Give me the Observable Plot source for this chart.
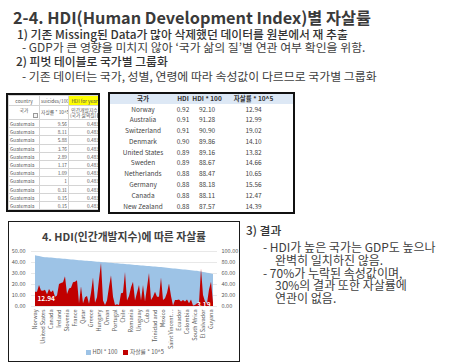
<!DOCTYPE html>
<html><head><meta charset="utf-8">
<script src="https://cdn.jsdelivr.net/npm/d3@7"></script>
<script src="https://cdn.jsdelivr.net/npm/@observablehq/plot@0.6"></script>
<style>
html,body{margin:0;padding:0;background:#fff;}
body{width:461px;height:364px;position:relative;overflow:hidden;font-family:"Noto Sans CJK KR","Noto Sans",sans-serif;color:#404040;}
.t{position:absolute;white-space:nowrap;}
.h1{font-size:16.3px;font-weight:700;color:#3a3a3a;line-height:16px;}
.h2{font-size:11.8px;font-weight:500;color:#333;line-height:13px;}
.b{font-size:11.9px;font-weight:400;color:#404040;line-height:13px;}
.b2{font-size:12px;font-weight:400;color:#404040;line-height:12.6px;}
#lt{position:absolute;left:6px;top:93px;width:94px;height:119px;border:2px solid #111;box-sizing:border-box;overflow:hidden;background:#fff;}
#lt table{border-collapse:collapse;table-layout:fixed;width:92px;font-size:4.8px;color:#555;}
#lt td{border:0.5px solid #d4d4d4;padding:0 1px;overflow:hidden;white-space:nowrap;height:7.2px;line-height:7px;}
#lt td.n{text-align:right;}
#lt tr.h td{text-align:center;}
#lt .yl{background:#ffff00;}
.fb{display:inline-block;width:3px;height:3px;border:0.5px solid #999;margin-left:1px;vertical-align:middle;background:#f4f4f4;}
#rt{position:absolute;left:108px;top:92px;width:187px;height:122px;border:2px solid #111;box-sizing:border-box;overflow:hidden;background:#fff;}
#rt table{border-collapse:collapse;table-layout:fixed;width:183px;font-size:6.5px;color:#444;}
#rt td{height:10.8px;line-height:10.8px;padding:0;text-align:center;border:none;white-space:nowrap;overflow:hidden;}
#rt tr.h td{background:#dde8f5;font-weight:700;color:#333;height:9.5px;line-height:9.5px;}
#box{position:absolute;left:8px;top:221px;width:232px;height:141px;border:1.5px solid #1a1a1a;box-sizing:border-box;}
#ctitle{position:absolute;left:8px;width:232px;top:229px;text-align:center;font-size:10.8px;font-weight:700;color:#404040;line-height:14px;}
#chart{position:absolute;left:8px;top:244px;}
#legend{position:absolute;left:86px;top:348px;font-size:5.8px;color:#595959;line-height:8px;white-space:nowrap;}
#legend span.sw{display:inline-block;width:4.5px;height:4.5px;margin-right:2px;vertical-align:-0.5px;}
#legend span.it{margin-right:6px;}
</style></head><body>
<div class="t h1" style="left:13px;top:9px;">2-4. HDI(Human Development Index)별 자살률</div>
<div class="t h2" style="left:17px;top:26.5px;">1) 기존 Missing된 Data가 많아 삭제했던 데이터를 원본에서 재 추출</div>
<div class="t b" style="left:22px;top:39.5px;">- GDP가 큰 영향을 미치지 않아 ‘국가 삶의 질’별 연관 여부 확인을 위함.</div>
<div class="t h2" style="left:16px;top:53.5px;">2) 피벗 테이블로 국가별 그룹화</div>
<div class="t b" style="left:22px;top:68.5px;">- 기존 데이터는 국가, 성별, 연령에 따라 속성값이 다르므로 국가별 그룹화</div>

<div id="lt"></div>
<div id="rt"></div>

<div id="box"></div>
<div id="ctitle">4. HDI(인간개발지수)에 따른 자살률</div>
<div id="chart"></div>
<div id="legend"></div>

<div class="t h2" style="left:246px;top:222.5px;">3) 결과</div>
<div class="t b2" style="left:263px;top:240.5px;">- HDI가 높은 국가는 GDP도 높으나</div>
<div class="t b2" style="left:275px;top:253.5px;">완벽히 일치하진 않음.</div>
<div class="t b2" style="left:263px;top:266.5px;">- 70%가 누락된 속성값이며,</div>
<div class="t b2" style="left:275px;top:279.3px;">30%의 결과 또한 자살률에</div>
<div class="t b2" style="left:275px;top:292px;">연관이 없음.</div>

<script>
// ---- chart data (sorted by HDI, descending) ----
const countries = ["Norway","Australia","Switzerland","Denmark","United States","Sweden","Netherlands","Germany","Canada","New Zealand",
"Singapore","Iceland","Ireland","Japan","Republic of Korea","United Kingdom","Slovenia","Israel","Luxembourg","Finland",
"France","Belgium","Austria","Spain","Qatar","Italy","Czech Republic","Estonia","Greece","Cyprus",
"Malta","Poland","Hungary","Lithuania","Slovakia","United Arab Emirates","Oman","Croatia","Latvia","Argentina",
"Portugal","Bahrain","Kuwait","Seychelles","Chile","Montenegro","Bulgaria","Belarus","Romania","Russian Federation",
"Barbados","Antigua and Barbuda","Uruguay","Kazakhstan","Panama","Malaysia","Cuba","Serbia","Mauritius","Costa Rica",
"Trinidad and Tobago","Grenada","Albania","Turkey","Mexico","Georgia","Azerbaijan","Brazil","Saint Vincent and Grenadines","Sri Lanka",
"Ukraine","Thailand","Ecuador","Armenia","Saint Lucia","Jamaica","Colombia","Belize","Suriname","Paraguay",
"South Africa","Philippines","Turkmenistan","Uzbekistan","El Salvador","Mongolia","Kyrgyzstan","Kiribati","Guyana","Guatemala"];

const hdi100 = [92.10,91.28,90.90,89.86,89.16,88.67,88.47,88.18,88.11,87.57,
87.2,86.9,86.6,86.3,86.0,85.7,85.4,85.0,84.7,84.4,
84.0,83.7,83.4,83.1,82.8,82.5,82.2,81.9,81.6,81.3,
81.0,80.6,80.3,80.0,79.7,79.4,79.1,78.8,78.5,78.2,
77.9,77.6,77.3,77.0,76.7,76.4,76.0,75.7,75.4,75.0,
74.7,74.4,74.1,73.8,73.5,73.2,72.9,72.6,72.3,72.0,
71.7,71.4,71.0,70.7,70.4,70.0,69.6,69.2,68.8,68.4,
68.0,67.6,67.3,66.9,66.5,66.2,65.8,65.4,65.0,64.7,
64.3,64.0,63.4,62.7,62.0,61.3,60.6,60.0,59.0,58.0];

const suicide = [12.94,12.99,19.02,14.10,13.82,14.66,10.65,15.56,12.47,14.39,
8.5,9.5,20.0,21.0,21.5,27.0,11.0,16.0,16.5,21.5,
22.0,23.5,2.5,18.0,2.5,8.0,9.0,2.0,12.0,26.0,
3.0,8.0,24.0,39.0,5.0,1.0,5.0,17.5,28.0,8.5,
1.0,1.5,1.0,11.5,12.0,31.0,5.0,9.0,17.0,22.0,
5.0,12.0,19.0,5.0,19.0,4.0,17.0,30.0,5.5,8.5,
13.0,8.5,8.5,26.0,5.5,7.0,12.0,20.5,9.0,0.5,
5.5,5.5,6.0,4.0,5.5,4.0,6.0,2.4,6.0,0.5,
1.0,2.4,3.0,34.0,10.0,4.0,2.4,15.0,22.0,3.19];

const xTicks = ["Norway","United States","Canada","Ireland","Slovenia","France","Qatar","Greece","Hungary","Oman","Portugal","Chile",
"Romania","Uruguay","Cuba","Trinidad and Tobago","Mexico","Saint Vincent and Grenadines","Ecuador","Colombia","South Africa","El Salvador","Guyana"];
const xTickText = ["Norway","United States","Canada","Ireland","Slovenia","France","Qatar","Greece","Hungary","Oman","Portugal","Chile",
"Romania","Uruguay","Cuba","Trinidad and","Mexico","Saint Vincent…","Ecuador","Colombia","South Africa","El Salvador","Guyana"];
const yTicksLeft = [0,10,20,30,40,50];
const seriesNames = ["HDI * 100","자살률 * 10^5"];
const seriesColors = ["#9DC3E6","#C00000"];

// ---- left table (raw data excerpt) ----
const ltHead1 = ["country","suicides/100k pop","HDI for year"];
const ltHead2 = ["국가","자살률 * 10^5","인간개발지수 (국가 삶의질)"];
const ltCountry = ["Guatemala","Guatemala","Guatemala","Guatemala","Guatemala","Guatemala","Guatemala","Guatemala","Guatemala","Guatemala","Guatemala","Guatemala","Guatemala"];
const ltSuicide = [9.56,8.11,5.88,3.76,2.89,1.17,1.09,1,0.31,0.15,0.15,0,6.96];
const ltHdi = [0.483,0.483,0.483,0.483,0.483,0.483,0.483,0.483,0.483,0.483,0.483,0.483,0.513];

// ---- right table (pivot top 10) ----
const rtHead = ["국가","HDI","HDI * 100","자살률 * 10^5"];
const rtHdi = [0.92,0.91,0.91,0.90,0.89,0.89,0.88,0.88,0.88,0.88];

// build left table
{
  let h = '<table><colgroup><col style="width:31px"><col style="width:29px"><col style="width:32px"></colgroup>';
  h += `<tr class="h"><td style="height:9px">${ltHead1[0]}</td><td style="height:9px">${ltHead1[1]}</td><td class="yl" style="height:9px">${ltHead1[2]}</td></tr>`;
  h += `<tr class="h"><td style="height:13px;line-height:6px">${ltHead2[0]}<br><span class="fb" style="float:right"></span></td><td style="height:13px;line-height:6px">${ltHead2[1]}<span class="fb"></span></td><td style="height:13px;line-height:5.5px">인간개발지수<br>(국가 삶의질)<span class="fb"></span></td></tr>`;
  ltCountry.forEach((c,i)=>{
    h += `<tr><td>${c}</td><td class="n">${ltSuicide[i]}</td><td class="n">${ltHdi[i]}</td></tr>`;
  });
  h += '</table>';
  document.getElementById('lt').innerHTML = h;
}
// build right table
{
  let h = '<table><colgroup><col style="width:66px"><col style="width:14px"><col style="width:34px"><col style="width:69px"></colgroup>';
  h += '<tr class="h">' + rtHead.map((d,i)=>`<td${i==3?' style="padding-right:10px"':''}>${d}</td>`).join('') + '</tr>';
  for (let i=0;i<10;i++){
    h += `<tr><td>${countries[i]}</td><td>${rtHdi[i].toFixed(2)}</td><td>${hdi100[i].toFixed(2)}</td><td style="padding-right:10px">${suicide[i].toFixed(2)}</td></tr>`;
  }
  h += '</table>';
  document.getElementById('rt').innerHTML = h;
}

// ---- chart ----
const data = countries.map((c,i)=>({country:c, hdi:hdi100[i], sr:suicide[i]}));
const last = data.length-1;
const chart = Plot.plot({
  width: 232,
  height: 100,
  marginLeft: 23,
  marginRight: 23,
  marginTop: 7,
  marginBottom: 38,
  style: {fontFamily:'"Noto Sans CJK KR","Noto Sans",sans-serif', fontSize:"5.5px", color:"#595959", background:"transparent", overflow:"visible"},
  x: {type:"point", domain: countries, padding: 0, label: null},
  y: {domain:[0,50], label: null},
  marks: [
    Plot.gridY(yTicksLeft, {stroke:"#d9d9d9", strokeOpacity:1, strokeWidth:0.6}),
    Plot.areaY(data, {x:"country", y: d=>d.hdi/2, fill: seriesColors[0], curve:"linear"}),
    Plot.areaY(data, {x:"country", y:"sr", fill: seriesColors[1], curve:"linear"}),
    Plot.text([data[0]], {x:"country", y:d=>d.sr/2, text:d=>d.sr.toFixed(2), fill:"white", fontWeight:"bold", fontSize:6.5, textAnchor:"start", dx:2}),
    Plot.text([data[last]], {x:"country", y:d=>d.sr/2, text:d=>d.sr.toFixed(2), fill:"white", fontWeight:"bold", fontSize:6.5, textAnchor:"end", dx:-3}),
    Plot.axisY({anchor:"left", ticks:yTicksLeft, tickSize:0, tickPadding:6, tickFormat:d=>d.toFixed(2), fontSize:5.5, fill:"#595959", label:null}),
    Plot.axisY({anchor:"right", ticks:yTicksLeft, tickSize:0, tickPadding:4, tickFormat:d=>(d*2).toFixed(2), fontSize:5.5, fill:"#595959", label:null}),
    Plot.axisX({ticks:xTicks, tickRotate:-90, tickSize:0, tickPadding:3, tickFormat:d=>xTickText[xTicks.indexOf(d)], fontSize:5.5, fill:"#595959", label:null})
  ]
});
document.getElementById('chart').appendChild(chart);

// legend
document.getElementById('legend').innerHTML = seriesNames.map((n,i)=>
  `<span class="it"><span class="sw" style="background:${seriesColors[i]}"></span>${n}</span>`).join('');
</script>
</body></html>
